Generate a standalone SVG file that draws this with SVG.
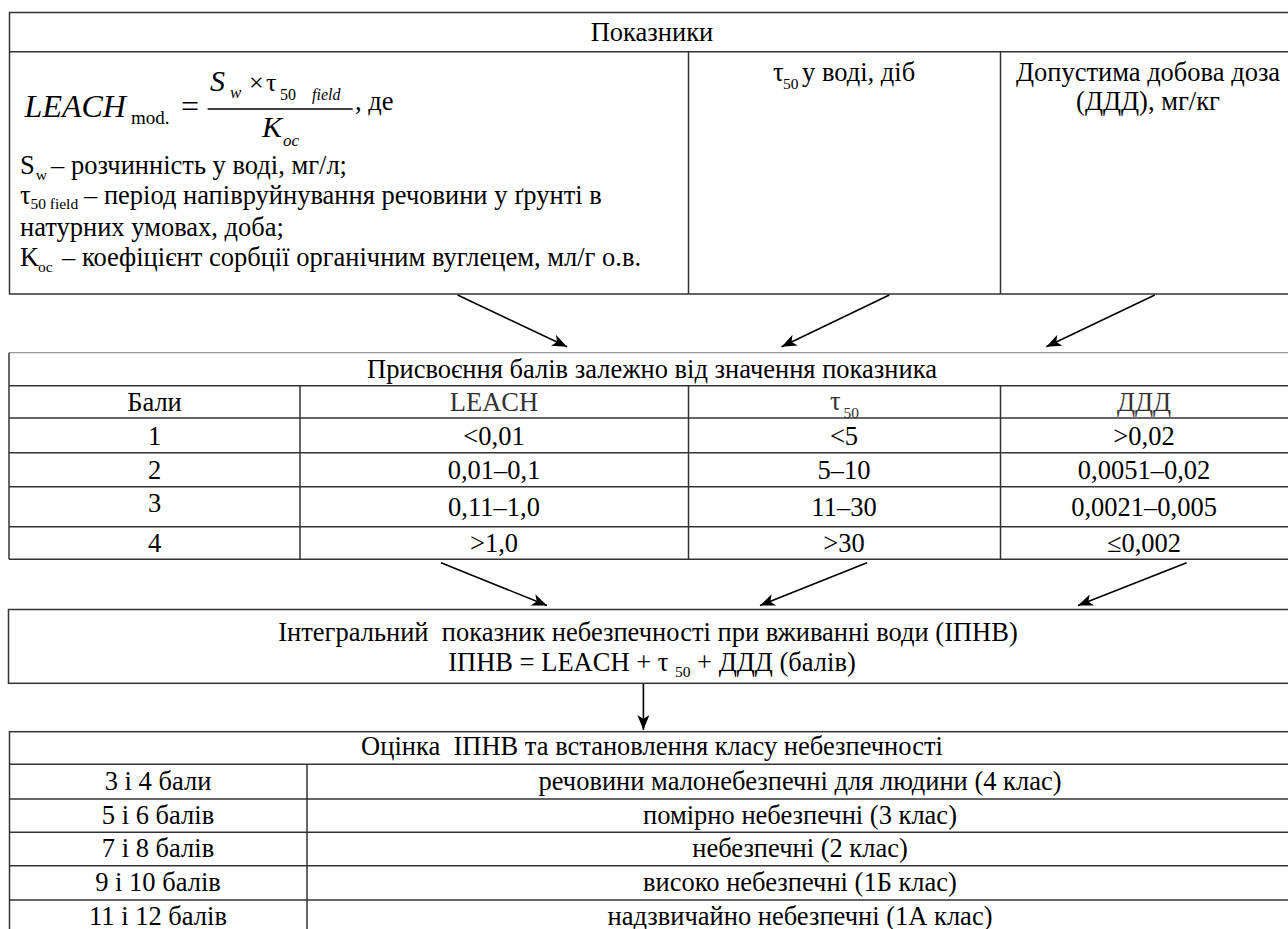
<svg xmlns="http://www.w3.org/2000/svg" width="1288" height="929" viewBox="0 0 1288 929">
<style>
.t{font-family:"Liberation Serif","Times New Roman","DejaVu Serif",serif;font-size:26.5px;fill:#000}
.c{text-anchor:middle}
.i{font-style:italic}
.s{font-size:15.5px}
.g{fill:#333}
.p{white-space:pre}
.ln{stroke:#333;stroke-width:1.5;fill:none}
.lt{stroke:#999;stroke-width:1.2;fill:none}
.ar{stroke:#000;stroke-width:1.6;fill:none;marker-end:url(#ah)}
</style>
<defs>
<marker id="ah" markerUnits="userSpaceOnUse" markerWidth="16" markerHeight="12" refX="15" refY="6" orient="auto">
<path d="M0,0 L15,6 L0,12 L4,6 z" fill="#000"/>
</marker>
</defs>
<rect width="1288" height="929" fill="#fff"/>

<g id="indicators">
<rect class="ln" x="9.5" y="12.5" width="1290" height="281.5"/>
<line class="ln" x1="9.5" y1="51.7" x2="1300" y2="51.7"/>
<line class="ln" x1="688.5" y1="51.7" x2="688.5" y2="294"/>
<line class="ln" x1="1000.5" y1="51.7" x2="1000.5" y2="294"/>
<text class="t c" x="652" y="41">Показники</text>
<text class="t i" x="24.6" y="117" style="font-size:32px">LEACH</text>
<text class="t" x="131" y="124" style="font-size:19px">mod.</text>
<text class="t" x="181" y="117" style="font-size:32px">=</text>
<line x1="207.6" y1="109" x2="352.7" y2="109" stroke="#000" stroke-width="1.3"/>
<text class="t i" x="210" y="91" style="font-size:30px">S</text>
<text class="t i" x="230" y="98" style="font-size:17px">w</text>
<text class="t" x="249" y="91" style="font-size:26px">×</text>
<text class="t" x="266" y="91" style="font-size:26px">τ</text>
<text class="t" x="280" y="100" style="font-size:16px">50</text>
<text class="t i" x="312" y="100" style="font-size:16px">field</text>
<text class="t i" x="262" y="137" style="font-size:30px">K</text>
<text class="t i" x="283" y="146" style="font-size:17px">oc</text>
<text class="t" x="355" y="110">, де</text>
<text class="t" x="20" y="174">S</text>
<text class="t s" x="35.7" y="180">w</text>
<text class="t" x="51" y="174">– розчинність у воді, мг/л;</text>
<text class="t" x="20" y="204">τ</text>
<text class="t s" x="30.4" y="209">50 field</text>
<text class="t" x="84" y="204">– період напівруйнування речовини у ґрунті в</text>
<text class="t" x="20" y="236">натурних умовах, доба;</text>
<text class="t" x="20" y="266">K</text>
<text class="t s" x="38" y="272">oc</text>
<text class="t" x="62" y="266">– коефіцієнт сорбції органічним вуглецем, мл/г о.в.</text>
<text class="t" x="773" y="81">τ</text>
<text class="t s" x="783" y="89">50</text>
<text class="t" x="802" y="81">у воді, діб</text>
<text class="t c" x="1148" y="81">Допустима добова доза</text>
<text class="t c" x="1148" y="110">(ДДД), мг/кг</text>
</g>

<g id="scores">
<line class="lt" x1="9" y1="352.7" x2="1300" y2="352.7"/>
<line class="ln" x1="9" y1="352.7" x2="9" y2="559.3"/>
<line class="ln" x1="9" y1="385.7" x2="1300" y2="385.7"/>
<line class="ln" x1="9" y1="418" x2="1300" y2="418"/>
<line class="ln" x1="9" y1="452.7" x2="1300" y2="452.7"/>
<line class="ln" x1="9" y1="486.7" x2="1300" y2="486.7"/>
<line class="ln" x1="9" y1="526.7" x2="1300" y2="526.7"/>
<line class="ln" x1="9" y1="559.3" x2="1300" y2="559.3"/>
<line class="ln" x1="300" y1="385.7" x2="300" y2="559.3"/>
<line class="ln" x1="688.5" y1="385.7" x2="688.5" y2="559.3"/>
<line class="ln" x1="1000.5" y1="385.7" x2="1000.5" y2="559.3"/>
<text class="t c" x="652" y="378">Присвоєння балів залежно від значення показника</text>
<text class="t c" x="154.5" y="411">Бали</text>
<text class="t c g" x="494" y="411">LEACH</text>
<text class="t g" x="830" y="410">τ</text>
<text class="t s g" x="843.6" y="418">50</text>
<text class="t c g" x="1144" y="411">ДДД</text>
<text class="t c" x="154.5" y="445">1</text>
<text class="t c" x="494" y="445">&lt;0,01</text>
<text class="t c" x="844" y="445">&lt;5</text>
<text class="t c" x="1144" y="445">&gt;0,02</text>
<text class="t c" x="154.5" y="479">2</text>
<text class="t c" x="494" y="479">0,01–0,1</text>
<text class="t c" x="844" y="479">5–10</text>
<text class="t c" x="1144" y="479">0,0051–0,02</text>
<text class="t c" x="154.5" y="512">3</text>
<text class="t c" x="494" y="516">0,11–1,0</text>
<text class="t c" x="844" y="516">11–30</text>
<text class="t c" x="1144" y="516">0,0021–0,005</text>
<text class="t c" x="154.5" y="552">4</text>
<text class="t c" x="494" y="552">&gt;1,0</text>
<text class="t c" x="844" y="552">&gt;30</text>
<text class="t c" x="1144" y="552">≤0,002</text>
</g>

<g id="ipnv">
<rect class="ln" x="8.5" y="609.5" width="1291" height="73.8"/>
<text class="t c p" x="648" y="641">Інтегральний  показник небезпечності при вживанні води (ІПНВ)</text>
<text class="t c" x="652" y="671">ІПНВ = LEACH + τ <tspan style="font-size:15.5px" dy="6">50</tspan><tspan dy="-6"> + ДДД (балів)</tspan></text>
</g>

<g id="assessment">
<rect class="ln" x="9.5" y="731.7" width="1290" height="210"/>
<line class="ln" x1="9.5" y1="764.3" x2="1300" y2="764.3"/>
<line class="ln" x1="9.5" y1="799" x2="1300" y2="799"/>
<line class="ln" x1="9.5" y1="832.3" x2="1300" y2="832.3"/>
<line class="ln" x1="9.5" y1="865.7" x2="1300" y2="865.7"/>
<line class="ln" x1="9.5" y1="900" x2="1300" y2="900"/>
<line class="ln" x1="307" y1="764.3" x2="307" y2="941"/>
<text class="t c p" x="652" y="755">Оцінка  ІПНВ та встановлення класу небезпечності</text>
<text class="t c" x="158" y="790">3 і 4 бали</text>
<text class="t c" x="158" y="824">5 і 6 балів</text>
<text class="t c" x="158" y="857">7 і 8 балів</text>
<text class="t c" x="158" y="891">9 і 10 балів</text>
<text class="t c" x="158" y="925">11 і 12 балів</text>
<text class="t c" x="800" y="790">речовини малонебезпечні для людини (4 клас)</text>
<text class="t c" x="800" y="824">помірно небезпечні (3 клас)</text>
<text class="t c" x="800" y="857">небезпечні (2 клас)</text>
<text class="t c" x="800" y="891">високо небезпечні (1Б клас)</text>
<text class="t c" x="800" y="925">надзвичайно небезпечні (1А клас)</text>
</g>

<g id="connectors">
<line class="ar" x1="457.6" y1="295" x2="567" y2="346.7"/>
<line class="ar" x1="889.3" y1="295" x2="781.6" y2="346.7"/>
<line class="ar" x1="1154.8" y1="295" x2="1046.3" y2="346.7"/>
<line class="ar" x1="441" y1="562.7" x2="547" y2="605.5"/>
<line class="ar" x1="867" y1="562.7" x2="760" y2="605.5"/>
<line class="ar" x1="1186.6" y1="562.7" x2="1078" y2="605.5"/>
<line class="ar" x1="643.4" y1="684" x2="643.4" y2="730"/>
</g>
</svg>
